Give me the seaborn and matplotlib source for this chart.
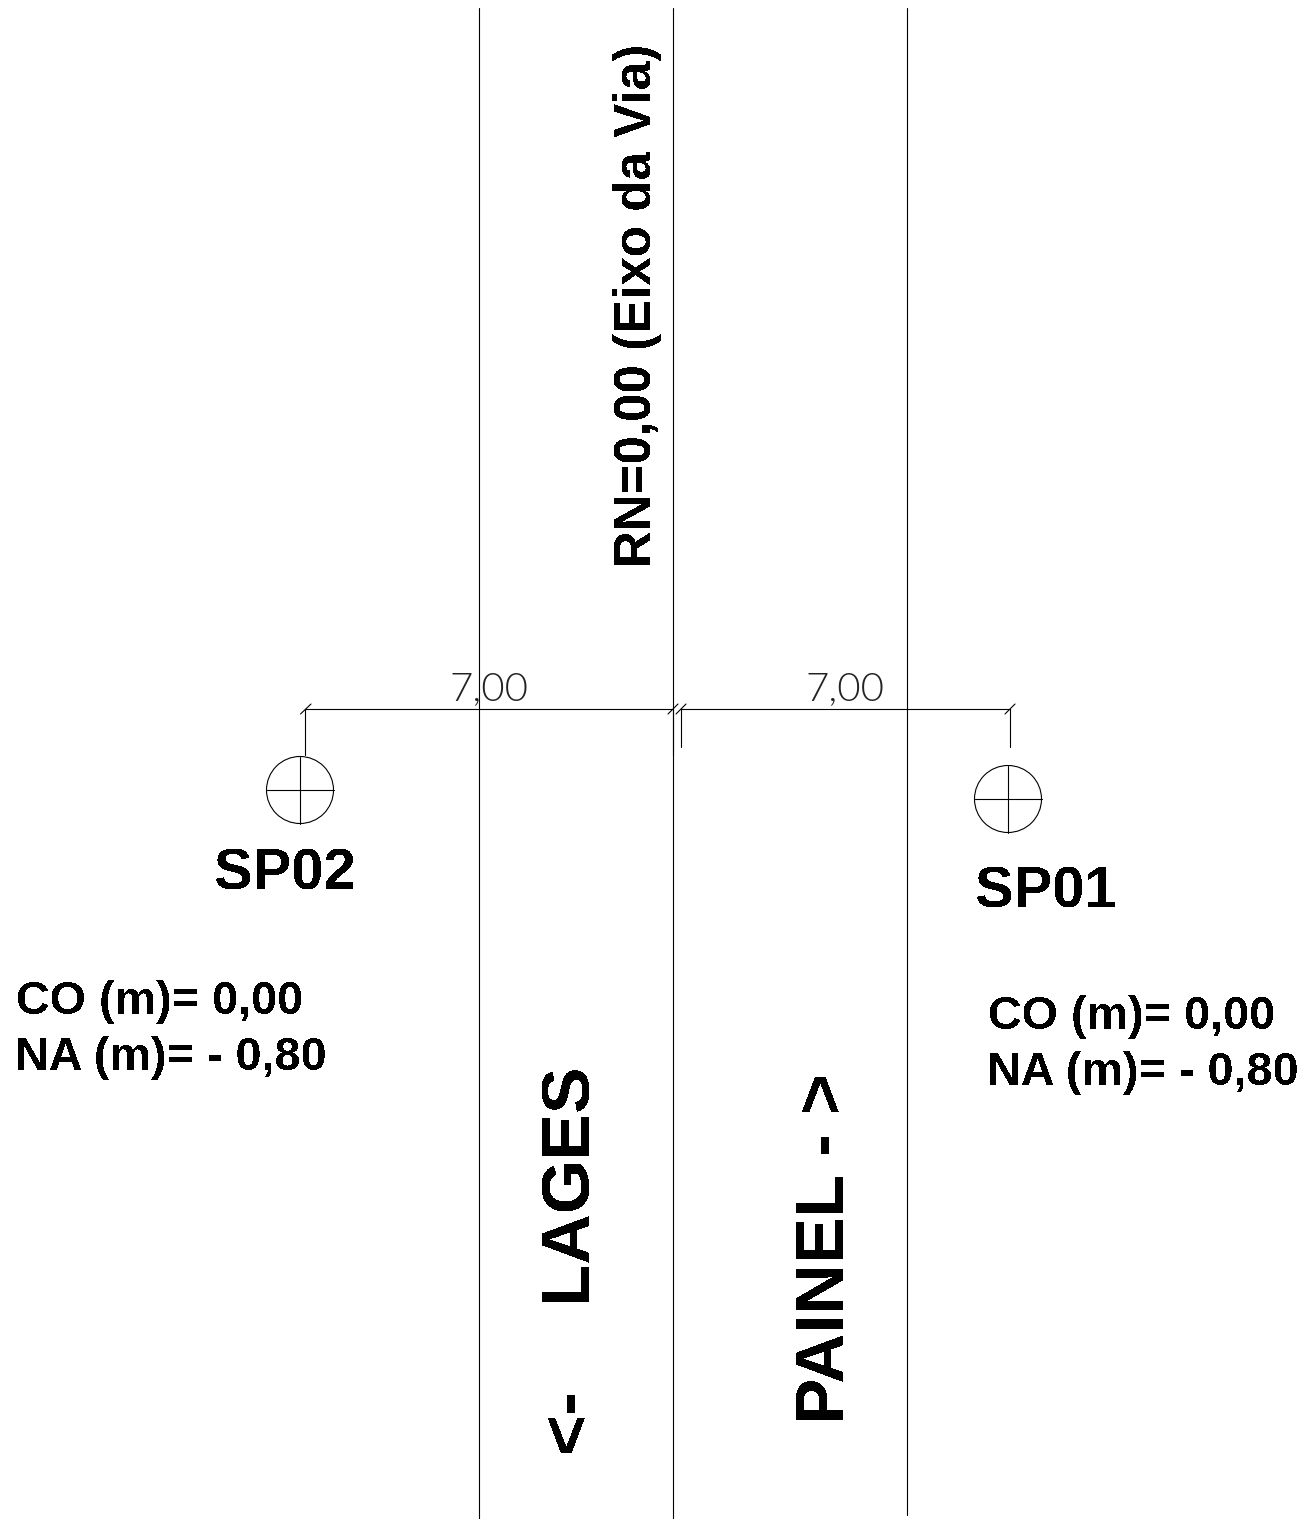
import matplotlib
matplotlib.use("Agg")
import matplotlib.pyplot as plt
import pandas as pd
import seaborn as sns

sns.set_theme(style="white")
plt.rcParams['font.family'] = ['Liberation Sans', 'DejaVu Sans']

# Eixos da via
road_x = [479, 673, 907]
road_top = [8, 8, 8]
road_bottom = [1519, 1519, 1515]

# Cotas (x0, y0, x1, y1)
dim_lines = [(305, 709, 673, 709), (681, 709, 1010, 709)]
ext_lines = [(305, 709, 305, 755), (681, 709, 681, 747), (1010, 709, 1010, 747), (673, 709, 673, 755)]
ticks = [(300.5, 714, 311, 704), (668, 714, 678, 704), (676, 714, 686, 704), (1005, 714, 1015, 704)]

# Furos de sondagem
hole_x = [300, 1008]
hole_y = [790, 799]
hole_radius = 33.5

# Textos
labels = [
    ("SP02", 214, 889, 41.8, 0),
    ("SP01", 975, 908, 41.8, 0),
    ("CO (m)= 0,00", 16, 1014, 33.7, 0),
    ("NA (m)= - 0,80", 15, 1070, 33.7, 0),
    ("CO (m)= 0,00", 988, 1029, 33.7, 0),
    ("NA (m)= - 0,80", 987, 1085, 33.7, 0),
    ("RN=0,00 (Eixo da Via)", 651, 567, 36.8, 90),
    ("LAGES", 586, 1301, 50, 90),
    ("PAINEL - >", 844, 1424, 50, 90),
    ("<-", 587, 1452, 50, 90),
]
dim_labels = [("7,00", 450, 700), ("7,00", 806, 700)]

segments = []
for x, y0, y1 in zip(road_x, road_top, road_bottom):
    segments.append((x, y0, x, y1))
segments += dim_lines + ext_lines + ticks
for x, y in zip(hole_x, hole_y):
    segments.append((x - hole_radius, y, x + hole_radius, y))
    segments.append((x, y - hole_radius, x, y + hole_radius))

rows = []
for i, (x0, y0, x1, y1) in enumerate(segments):
    rows.append({"seg": i, "x": x0, "y": y0})
    rows.append({"seg": i, "x": x1, "y": y1})
df = pd.DataFrame(rows)

fig = plt.figure(figsize=(13.04, 15.19), dpi=100)
ax = fig.add_axes([0, 0, 1, 1])

sns.lineplot(data=df, x="x", y="y", units="seg", estimator=None, sort=False,
             color="black", linewidth=0.8, ax=ax, legend=False)

# 1 pt = 100/72 px
marker_d = 2 * hole_radius * 72 / 100
sns.scatterplot(x=hole_x, y=hole_y, s=marker_d ** 2, marker="o", facecolor="none",
                edgecolor="black", linewidth=0.8, ax=ax, legend=False)

for txt, x, y, size, rot in labels:
    ax.text(x, y, txt, fontsize=size, fontweight="bold", color="black", rotation=rot,
            rotation_mode="anchor", ha="left", va="baseline", antialiased=False)

for txt, x, y in dim_labels:
    ax.text(x, y, txt, fontsize=29, family=["Lato", "DejaVu Sans"], fontweight=300,
            color="#222222", ha="left", va="baseline")

ax.set_xlim(0, 1304)
ax.set_ylim(1519, 0)
ax.set_axis_off()

fig.savefig("out.png", dpi=100, facecolor="white")
plt.close(fig)
